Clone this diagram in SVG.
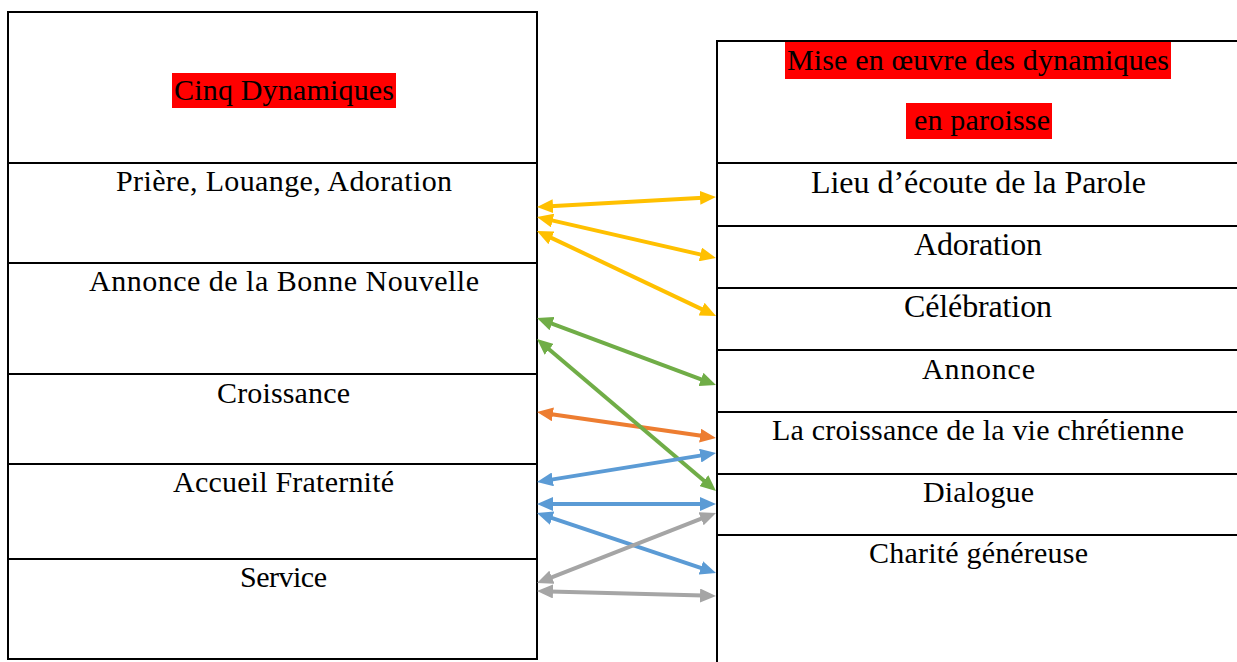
<svg xmlns="http://www.w3.org/2000/svg" width="1237" height="662" viewBox="0 0 1237 662">
<style>
.cell{fill:#fff;stroke:#000;stroke-width:2}
.hl{fill:#ff0000}
.g{font-family:'Liberation Serif',serif;font-size:30px;fill:#000}
.t{font-family:'Liberation Serif',serif;font-size:32px;fill:#000}
.c{fill:none;stroke-width:4}
</style>
<defs>
<marker id="mY" markerUnits="userSpaceOnUse" markerWidth="16" markerHeight="14" refX="3" refY="7" orient="auto-start-reverse"><path d="M0,0 L16,7 L0,14 z" fill="#FFC000"/></marker>
<marker id="mG" markerUnits="userSpaceOnUse" markerWidth="16" markerHeight="14" refX="3" refY="7" orient="auto-start-reverse"><path d="M0,0 L16,7 L0,14 z" fill="#70AD47"/></marker>
<marker id="mO" markerUnits="userSpaceOnUse" markerWidth="16" markerHeight="14" refX="3" refY="7" orient="auto-start-reverse"><path d="M0,0 L16,7 L0,14 z" fill="#ED7D31"/></marker>
<marker id="mB" markerUnits="userSpaceOnUse" markerWidth="16" markerHeight="14" refX="3" refY="7" orient="auto-start-reverse"><path d="M0,0 L16,7 L0,14 z" fill="#5B9BD5"/></marker>
<marker id="mR" markerUnits="userSpaceOnUse" markerWidth="16" markerHeight="14" refX="3" refY="7" orient="auto-start-reverse"><path d="M0,0 L16,7 L0,14 z" fill="#A5A5A5"/></marker>
</defs>
<rect width="1237" height="662" fill="#fff"/>

<g id="left-header"><rect class="cell" x="8" y="12" width="529" height="151"/><rect class="hl" x="172" y="73" width="224" height="35"/><text class="g" x="174" y="100" textLength="220">Cinq Dynamiques</text></g>
<g id="left-priere"><rect class="cell" x="8" y="163" width="529" height="100"/><text class="g" x="116" y="191" textLength="336">Prière, Louange, Adoration</text></g>
<g id="left-annonce"><rect class="cell" x="8" y="263" width="529" height="111"/><text class="g" x="89" y="291" textLength="390">Annonce de la Bonne Nouvelle</text></g>
<g id="left-croissance"><rect class="cell" x="8" y="374" width="529" height="90"/><text class="g" x="217" y="403" textLength="133">Croissance</text></g>
<g id="left-accueil"><rect class="cell" x="8" y="464" width="529" height="95"/><text class="g" x="173" y="492" textLength="221">Accueil Fraternité</text></g>
<g id="left-service"><rect class="cell" x="8" y="559" width="529" height="100"/><text class="g" x="240" y="587" textLength="87">Service</text></g>

<g id="right-header"><rect class="cell" x="717" y="41" width="540" height="122"/><rect class="hl" x="785" y="42" width="386" height="37"/><text class="g" x="787" y="70" textLength="382">Mise en œuvre des dynamiques</text><rect class="hl" x="906" y="103" width="146" height="36"/><text class="g" x="914" y="130" textLength="136">en paroisse</text></g>
<g id="right-lieu"><rect class="cell" x="717" y="163" width="540" height="63"/><text class="t" x="811" y="193" textLength="335">Lieu d’écoute de la Parole</text></g>
<g id="right-adoration"><rect class="cell" x="717" y="226" width="540" height="62"/><text class="t" x="914" y="255" textLength="128">Adoration</text></g>
<g id="right-celebration"><rect class="cell" x="717" y="288" width="540" height="62"/><text class="t" x="904" y="317" textLength="148">Célébration</text></g>
<g id="right-annonce"><rect class="cell" x="717" y="350" width="540" height="62"/><text class="g" x="922" y="379" textLength="113">Annonce</text></g>
<g id="right-croissance"><rect class="cell" x="717" y="412" width="540" height="62"/><text class="g" x="772" y="440" textLength="412">La croissance de la vie chrétienne</text></g>
<g id="right-dialogue"><rect class="cell" x="717" y="474" width="540" height="61"/><text class="g" x="923" y="502" textLength="111">Dialogue</text></g>
<g id="right-charite"><rect class="cell" x="717" y="535" width="540" height="140"/><text class="g" x="869" y="563" textLength="219">Charité généreuse</text></g>

<g id="connectors">
<path class="c" stroke="#FFC000" marker-start="url(#mY)" marker-end="url(#mY)" d="M550,206.3 L703,197.7"/>
<path class="c" stroke="#FFC000" marker-start="url(#mY)" marker-end="url(#mY)" d="M549.7,219.9 L703.3,255.1"/>
<path class="c" stroke="#FFC000" marker-start="url(#mY)" marker-end="url(#mY)" d="M548.7,236.6 L704.3,310.4"/>
<path class="c" stroke="#70AD47" marker-start="url(#mG)" marker-end="url(#mG)" d="M549.2,322.6 L703.8,380.4"/>
<path class="c" stroke="#ED7D31" marker-start="url(#mO)" marker-end="url(#mO)" d="M549.9,413.9 L703.1,436.1"/>
<path class="c" stroke="#70AD47" marker-start="url(#mG)" marker-end="url(#mG)" d="M546.9,347.4 L706.1,482.6"/>
<path class="c" stroke="#5B9BD5" marker-start="url(#mB)" marker-end="url(#mB)" d="M549.8,479.9 L703.2,455.1"/>
<path class="c" stroke="#5B9BD5" marker-start="url(#mB)" marker-end="url(#mB)" d="M550,504 L703,504"/>
<path class="c" stroke="#5B9BD5" marker-start="url(#mB)" marker-end="url(#mB)" d="M549.3,517.1 L703.7,568.9"/>
<path class="c" stroke="#A5A5A5" marker-start="url(#mR)" marker-end="url(#mR)" d="M549.1,578.3 L703.9,517.7"/>
<path class="c" stroke="#A5A5A5" marker-start="url(#mR)" marker-end="url(#mR)" d="M550,591.4 L703,595.6"/>
</g>
</svg>
